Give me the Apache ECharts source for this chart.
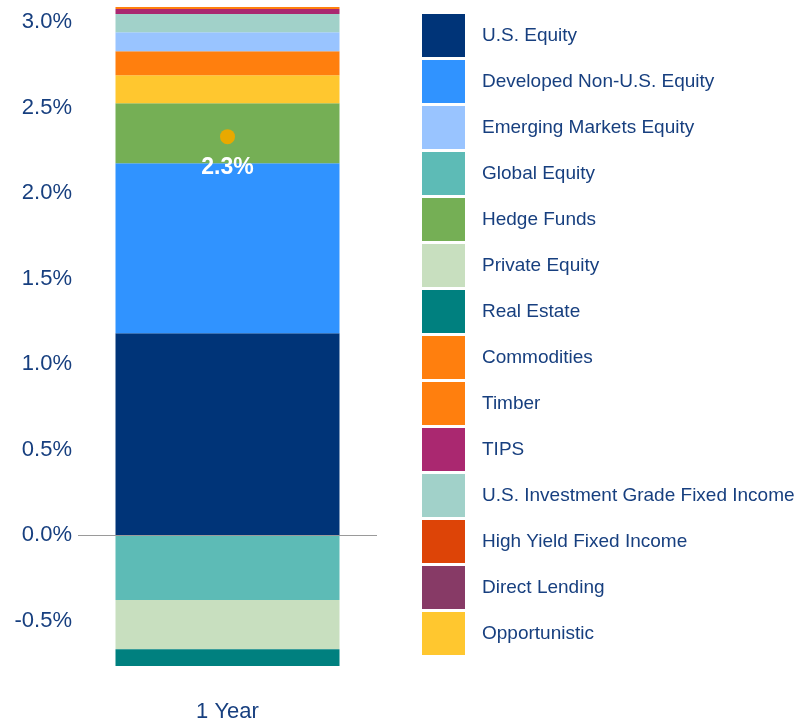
<!DOCTYPE html>
<html>
<head>
<meta charset="utf-8">
<script src="https://cdn.jsdelivr.net/npm/echarts@6/dist/echarts.min.js"></script>
<style>
html,body{margin:0;padding:0;background:#fff;}
#chart{width:798px;height:725px;}
</style>
</head>
<body>
<div id="chart"></div>
<script>
// Categories
const categories = ['1 Year'];
// Legend order
const legendOrder = ['U.S. Equity','Developed Non-U.S. Equity','Emerging Markets Equity','Global Equity','Hedge Funds','Private Equity','Real Estate','Commodities','Timber','TIPS','U.S. Investment Grade Fixed Income','High Yield Fixed Income','Direct Lending','Opportunistic'];
// Stacking order (bottom to top) and values (%)
const stackNames = ['U.S. Equity','Developed Non-U.S. Equity','Hedge Funds','Opportunistic','Commodities','Emerging Markets Equity','U.S. Investment Grade Fixed Income','TIPS','High Yield Fixed Income','Timber','Direct Lending','Global Equity','Private Equity','Real Estate'];
const stackValues = [1.18, 0.995, 0.35, 0.164, 0.14, 0.111, 0.108, 0.029, 0.0, 0.012, 0.0, -0.38, -0.287, -0.098];
const totalValue = [2.33];
const totalLabel = '2.3%';
const colors = {
  'U.S. Equity':'#003478',
  'Developed Non-U.S. Equity':'#3093FF',
  'Emerging Markets Equity':'#99C4FF',
  'Global Equity':'#5DBBB6',
  'Hedge Funds':'#75AF55',
  'Private Equity':'#C8DFBF',
  'Real Estate':'#00807F',
  'Commodities':'#FF7F0E',
  'Timber':'#FF7F0E',
  'TIPS':'#AA2870',
  'U.S. Investment Grade Fixed Income':'#A1D1C9',
  'High Yield Fixed Income':'#DD4407',
  'Direct Lending':'#873A66',
  'Opportunistic':'#FFC72F'
};
const textColor = '#173F7F';
const font = 'Liberation Sans, Arial, sans-serif';

const series = stackNames.map((name, i) => {
  const s = {
    name: name,
    type: 'bar',
    stack: 'total',
    barWidth: 224,
    data: [stackValues[i]],
    itemStyle: {color: colors[name]},
    emphasis: {disabled: true}
  };
  if (i === 0) {
    s.markLine = {
      silent: true,
      symbol: ['none','none'],
      label: {show: false},
      lineStyle: {color: '#9a9a9a', width: 1, type: 'solid'},
      data: [{yAxis: 0}],
      z: 10
    };
  }
  return s;
});
series.push({
  name: 'Total',
  type: 'scatter',
  data: totalValue,
  symbolSize: 15,
  itemStyle: {color: '#E8A900', opacity: 1},
  emphasis: {disabled: true},
  z: 20,
  label: {
    show: true,
    position: 'bottom',
    distance: 12,
    formatter: totalLabel,
    color: '#ffffff',
    opacity: 1,
    fontSize: 23,
    fontWeight: 'bold',
    fontFamily: font
  }
});

const chart = echarts.init(document.getElementById('chart'), null, {renderer: 'canvas'});
chart.setOption({
  animation: false,
  backgroundColor: '#ffffff',
  grid: {left: 78, right: 421, top: 5, bottom: 36, containLabel: false},
  legend: {
    data: legendOrder,
    orient: 'vertical',
    left: 422,
    top: 14,
    padding: 0,
    itemWidth: 43,
    itemHeight: 43,
    itemGap: 3,
    icon: 'rect',
    selectedMode: false,
    textStyle: {color: textColor, fontSize: 19, fontFamily: font, padding: [3,0,0,12]}
  },
  xAxis: {
    type: 'category',
    data: categories,
    axisLine: {show: false},
    axisTick: {show: false},
    axisLabel: {color: textColor, fontSize: 22, margin: 12, fontFamily: font}
  },
  yAxis: {
    type: 'value',
    min: -0.9,
    max: 3.1,
    interval: 0.1,
    splitLine: {show: false},
    axisLine: {show: false},
    axisTick: {show: false},
    axisLabel: {
      color: textColor,
      fontSize: 22,
      margin: 6,
      padding: [4,0,0,0],
      fontFamily: font,
      formatter: function (v) {
        const r = Math.round(v * 10);
        if (r % 5 !== 0) return '';
        return (r / 10).toFixed(1) + '%';
      }
    }
  },
  series: series
});
</script>
</body>
</html>
